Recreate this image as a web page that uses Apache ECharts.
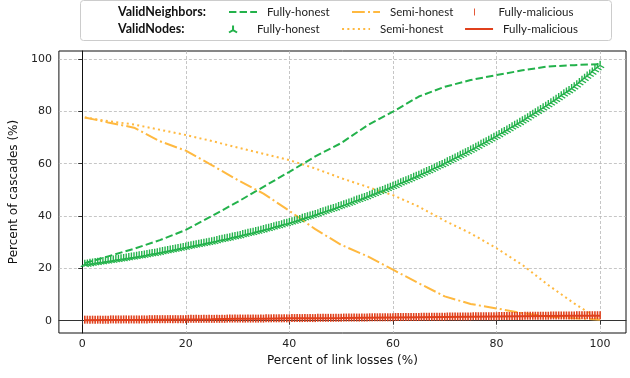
<!DOCTYPE html>
<html><head><meta charset="utf-8">
<script src="https://cdn.jsdelivr.net/npm/echarts@6/dist/echarts.min.js"></script>
<style>html,body{margin:0;padding:0;background:#fff}#c{width:630px;height:378px}</style>
</head><body><div id="c"></div>
<script>
// x positions of the coarse line series
const xLine = [0.5,5,10,15,20,25,30,35,40,45,50,55,60,65,70,75,80,85,90,95,100];
// x positions of the dense marker series
const xDense = [
0.5,1,1.5,2,2.5,3,3.5,4,4.5,5,5.5,6,6.5,7,7.5,8,8.5,9,9.5,10,
10.5,11,11.5,12,12.5,13,13.5,14,14.5,15,15.5,16,16.5,17,17.5,18,18.5,19,19.5,20,
20.5,21,21.5,22,22.5,23,23.5,24,24.5,25,25.5,26,26.5,27,27.5,28,28.5,29,29.5,30,
30.5,31,31.5,32,32.5,33,33.5,34,34.5,35,35.5,36,36.5,37,37.5,38,38.5,39,39.5,40,
40.5,41,41.5,42,42.5,43,43.5,44,44.5,45,45.5,46,46.5,47,47.5,48,48.5,49,49.5,50,
50.5,51,51.5,52,52.5,53,53.5,54,54.5,55,55.5,56,56.5,57,57.5,58,58.5,59,59.5,60,
60.5,61,61.5,62,62.5,63,63.5,64,64.5,65,65.5,66,66.5,67,67.5,68,68.5,69,69.5,70,
70.5,71,71.5,72,72.5,73,73.5,74,74.5,75,75.5,76,76.5,77,77.5,78,78.5,79,79.5,80,
80.5,81,81.5,82,82.5,83,83.5,84,84.5,85,85.5,86,86.5,87,87.5,88,88.5,89,89.5,90,
90.5,91,91.5,92,92.5,93,93.5,94,94.5,95,95.5,96,96.5,97,97.5,98,98.5,99,99.5,100];

// ValidNeighbors
const neighFullyHonest = [22.0,24.6,27.5,30.8,34.7,40.0,45.4,51.2,56.9,62.8,67.9,74.6,79.9,85.7,89.4,92.0,93.9,95.7,97.2,97.7,98.1];
const neighSemiHonest  = [77.7,75.8,73.8,68.6,65.0,59.5,53.8,48.6,42.0,35.0,29.0,24.7,19.5,14.3,9.3,6.4,4.7,2.9,1.6,0.9,0.4];
const neighFullyMal = [
0.4,0.4,0.4,0.4,0.4,0.4,0.4,0.4,0.4,0.4,
0.5,0.5,0.5,0.5,0.5,0.5,0.5,0.5,0.5,0.5,
0.5,0.5,0.5,0.5,0.5,0.6,0.6,0.6,0.6,0.6,
0.6,0.6,0.6,0.6,0.6,0.6,0.6,0.6,0.6,0.6,
0.7,0.7,0.7,0.7,0.7,0.7,0.7,0.7,0.7,0.7,
0.7,0.7,0.7,0.7,0.7,0.8,0.8,0.8,0.8,0.8,
0.8,0.8,0.8,0.8,0.8,0.8,0.8,0.8,0.8,0.8,
0.9,0.9,0.9,0.9,0.9,0.9,0.9,0.9,0.9,0.9,
1.0,1.0,1.0,1.0,1.0,1.0,1.0,1.0,1.0,1.0,
1.1,1.1,1.1,1.1,1.1,1.1,1.1,1.1,1.1,1.1,
1.2,1.2,1.2,1.2,1.2,1.2,1.2,1.2,1.2,1.2,
1.3,1.3,1.3,1.3,1.3,1.3,1.3,1.3,1.3,1.3,
1.4,1.4,1.4,1.4,1.4,1.4,1.4,1.4,1.4,1.4,
1.5,1.5,1.5,1.5,1.5,1.5,1.5,1.5,1.5,1.5,
1.6,1.6,1.6,1.6,1.6,1.6,1.6,1.6,1.6,1.6,
1.7,1.7,1.7,1.7,1.7,1.7,1.7,1.7,1.7,1.7,
1.8,1.8,1.8,1.8,1.8,1.8,1.8,1.8,1.8,1.8,
1.9,1.9,1.9,1.9,1.9,1.9,1.9,1.9,1.9,1.9,
2.0,2.0,2.0,2.0,2.0,2.0,2.0,2.0,2.0,2.0,
2.1,2.1,2.1,2.1,2.1,2.1,2.1,2.1,2.1,2.1];

// ValidNodes
const nodesFullyHonest = [
22.0,22.1,22.3,22.4,22.6,22.7,22.9,23.0,23.2,23.3,
23.5,23.6,23.8,23.9,24.1,24.2,24.4,24.5,24.7,24.8,
25.0,25.2,25.3,25.5,25.7,25.9,26.1,26.2,26.4,26.6,
26.8,27.0,27.2,27.4,27.6,27.8,28.0,28.2,28.4,28.6,
28.8,29.0,29.2,29.4,29.6,29.8,30.0,30.2,30.4,30.6,
30.8,31.0,31.3,31.5,31.7,31.9,32.1,32.4,32.6,32.8,
33.0,33.3,33.5,33.8,34.0,34.2,34.5,34.7,35.0,35.2,
35.5,35.7,36.0,36.3,36.6,36.8,37.1,37.4,37.6,37.9,
38.2,38.5,38.8,39.1,39.5,39.8,40.1,40.4,40.7,41.0,
41.3,41.7,42.0,42.3,42.7,43.0,43.3,43.6,44.0,44.3,
44.7,45.0,45.4,45.7,46.1,46.5,46.8,47.2,47.5,47.9,
48.3,48.7,49.1,49.5,49.9,50.2,50.6,51.0,51.4,51.8,
52.2,52.6,53.1,53.5,53.9,54.3,54.7,55.2,55.6,56.0,
56.5,56.9,57.4,57.8,58.3,58.8,59.2,59.7,60.1,60.6,
61.1,61.6,62.1,62.6,63.1,63.6,64.1,64.6,65.1,65.6,
66.1,66.7,67.2,67.8,68.3,68.8,69.4,69.9,70.5,71.0,
71.6,72.2,72.7,73.3,73.9,74.5,75.1,75.6,76.2,76.8,
77.4,78.0,78.7,79.3,79.9,80.5,81.1,81.8,82.4,83.0,
83.7,84.4,85.0,85.7,86.4,87.1,87.8,88.4,89.1,89.8,
90.6,91.4,92.3,93.1,93.9,94.7,95.5,96.4,97.2,98.0];
const nodesSemiHonest = [77.7,76.3,75.0,73.0,71.0,68.7,66.2,63.8,61.4,58.2,54.5,51.2,48.0,43.6,38.2,33.4,27.7,21.3,13.6,6.6,0.3];
const nodesFullyMal = [0.2,0.25,0.3,0.4,0.5,0.55,0.7,0.75,0.9,0.95,1.0,1.1,1.2,1.3,1.4,1.5,1.6,1.7,1.8,1.85,1.9];

const xTicks = [0,20,40,60,80,100];
const yTicks = [0,20,40,60,80,100];

const GREEN = '#23b24b', ORANGE = '#ffb940', RED = '#e0401c';
const TRI = 'path://M0,0L0,10M0,10L-8.66,15M0,10L8.66,15';
const VBAR = 'path://M0,0L1,0L1,8L0,8Z';
const pairs = (xs, ys) => xs.map((x, i) => [x, ys[i]]);
const FONT = 'DejaVu Sans';

const chart = echarts.init(document.getElementById('c'), null, {renderer: 'canvas'});
const legendBase = {
  orient: 'horizontal', left: 228, itemGap: 0, itemWidth: 28, itemHeight: 7, padding: 0,
  selectedMode: false, formatter: n => n.trim(),
  textStyle: {fontFamily: 'Lato', fontSize: 11.5, color: '#222', width: 84, padding: [0, 0, 0, 5], lineHeight: 14}
};
chart.setOption({
  animation: false,
  backgroundColor: '#fff',
  grid: {left: 58, right: 4, top: 51, bottom: 45, show: true, borderColor: '#111', borderWidth: 1, containLabel: false},
  xAxis: {
    type: 'value', min: -4.5, max: 105,
    name: 'Percent of link losses (%)', nameLocation: 'middle', nameGap: 18,
    nameTextStyle: {fontFamily: FONT, fontSize: 12, color: '#111'},
    axisLine: {show: true, lineStyle: {color: '#333', width: 1}},
    axisTick: {show: true, length: 4, customValues: xTicks, lineStyle: {color: '#333'}},
    axisLabel: {customValues: xTicks, margin: 6, fontFamily: FONT, fontSize: 11, color: '#222'},
    splitLine: {show: true, lineStyle: {color: '#b8b8b8', type: [3, 2], width: 0.8}}
  },
  yAxis: {
    type: 'value', min: -4.7, max: 103.1,
    name: 'Percent of cascades (%)', nameLocation: 'middle', nameGap: 26, nameRotate: 90,
    nameTextStyle: {fontFamily: FONT, fontSize: 12, color: '#111'},
    axisLine: {show: true, lineStyle: {color: '#111', width: 1}},
    axisTick: {show: true, length: 4, customValues: yTicks, lineStyle: {color: '#333'}},
    axisLabel: {customValues: yTicks, margin: 7, fontFamily: FONT, fontSize: 11, color: '#222'},
    splitLine: {show: true, lineStyle: {color: '#b8b8b8', type: [3, 2], width: 0.8}}
  },
  legend: [
    Object.assign({}, legendBase, {top: 5, data: [
      {name: 'Fully-honest'}, {name: 'Semi-honest'}, {name: 'Fully-malicious', icon: VBAR}
    ]}),
    Object.assign({}, legendBase, {top: 22, data: [
      {name: 'Fully-honest ', icon: TRI}, {name: 'Semi-honest '}, {name: 'Fully-malicious '}
    ]})
  ],
  graphic: [
    {type: 'rect', z: -10, shape: {x: 80.5, y: 0.5, width: 531, height: 40, r: 3},
     style: {fill: '#fff', stroke: '#cccccc', lineWidth: 1}},
    {type: 'text', left: 118, top: 5, style: {text: 'ValidNeighbors:', font: 'bold 12.5px Lato', fill: '#111', lineHeight: 14}},
    {type: 'text', left: 118, top: 22, style: {text: 'ValidNodes:', font: 'bold 12.5px Lato', fill: '#111', lineHeight: 14}}
  ],
  series: [
    {name: 'Fully-honest', type: 'line', data: pairs(xLine, neighFullyHonest), symbol: 'none',
     lineStyle: {color: GREEN, width: 2, type: [7.4, 3.2]}, itemStyle: {color: GREEN, opacity: 0}, z: 3},
    {name: 'Semi-honest', type: 'line', data: pairs(xLine, neighSemiHonest), symbol: 'none',
     lineStyle: {color: ORANGE, width: 2, type: [12.8, 3.2, 2, 3.2]}, itemStyle: {color: ORANGE, opacity: 0}, z: 3},
    {name: 'Fully-malicious', type: 'line', data: pairs(xDense, neighFullyMal), symbol: 'rect', symbolSize: [1.6, 8],
     lineStyle: {width: 0, color: RED}, itemStyle: {color: RED}, z: 4},
    {name: 'Fully-honest ', type: 'line', data: pairs(xDense, nodesFullyHonest), symbol: TRI, symbolSize: [8, 7],
     lineStyle: {width: 0, color: GREEN}, itemStyle: {color: 'rgba(0,0,0,0)', borderColor: GREEN, borderWidth: 1.3}, z: 4},
    {name: 'Semi-honest ', type: 'line', data: pairs(xLine, nodesSemiHonest), symbol: 'none',
     lineStyle: {color: ORANGE, width: 2, type: [2, 3.3]}, itemStyle: {color: ORANGE, opacity: 0}, z: 3},
    {name: 'Fully-malicious ', type: 'line', data: pairs(xLine, nodesFullyMal), symbol: 'none',
     lineStyle: {color: RED, width: 2, type: 'solid'}, itemStyle: {color: RED, opacity: 0}, z: 3}
  ]
});
</script></body></html>
